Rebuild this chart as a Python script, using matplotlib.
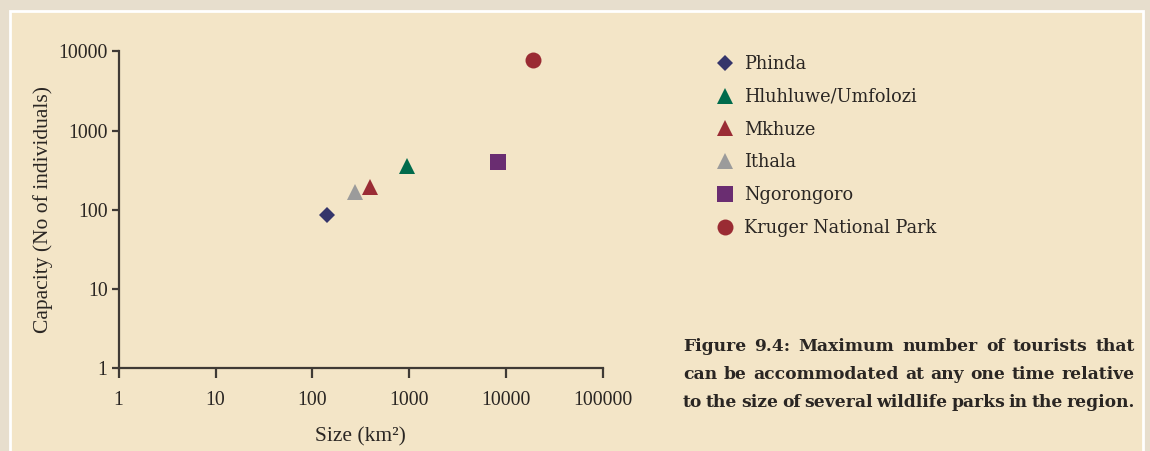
import matplotlib
matplotlib.use("Agg")
import matplotlib.pyplot as plt
from matplotlib.patches import Rectangle

# Park data: area (km²) and tourist capacity (individuals)
parks = ["Phinda", "Hluhluwe/Umfolozi", "Mkhuze", "Ithala", "Ngorongoro", "Kruger National Park"]
size_km2 = [142, 960, 390, 278, 8300, 19000]
capacity = [87, 355, 195, 170, 400, 7700]
markers = ["D", "^", "^", "^", "s", "o"]
colors = ["#34356b", "#006b4c", "#9a2c35", "#9b9b9b", "#6a2d71", "#9a2b33"]
msizes = [8.0, 11.5, 11.5, 11.5, 12.0, 11.5]

x_ticks = [1, 10, 100, 1000, 10000, 100000]
y_ticks = [1, 10, 100, 1000, 10000]

caption_lines = [
    "Figure 9.4: Maximum number of tourists that",
    "can be accommodated at any one time relative",
    "to the size of several wildlife parks in the region.",
]

W, H = 1150, 451
fig = plt.figure(figsize=(W / 100, H / 100), dpi=100)
fig.patch.set_facecolor("#e7decd")

# cream content panel with a white rim
panel = Rectangle((10 / W, -0.05), (1143 - 10) / W, 1.05 - 11 / H,
                  transform=fig.transFigure, facecolor="#f3e5c7",
                  edgecolor="white", linewidth=2.0, zorder=-10)
fig.patches.append(panel)

ax = fig.add_axes([118.7 / W, 1 - 368.3 / H, (602.7 - 118.7) / W, (368.3 - 51.3) / H])
ax.set_zorder(1)
ax.set_facecolor("none")
ax.set_xscale("log")
ax.set_yscale("log")
ax.set_xlim(1, 100000)
ax.set_ylim(1, 10000)

handles = []
for name, x, y, m, c, ms in zip(parks, size_km2, capacity, markers, colors, msizes):
    h, = ax.plot([x], [y], linestyle="none", marker=m, color=c, markersize=ms,
                 markeredgewidth=0, label=name, clip_on=False)
    handles.append(h)

axis_col = "#3f3a35"
text_col = "#2a2623"
tick_font = dict(family="Liberation Serif", size=14.3, color=text_col)
label_font = dict(family="Liberation Serif", size=15.5, color=text_col)
for side in ("top", "right"):
    ax.spines[side].set_visible(False)
for side in ("left", "bottom"):
    ax.spines[side].set_color(axis_col)
    ax.spines[side].set_linewidth(1.6)

ax.set_xticks(x_ticks)
ax.set_xticklabels([str(v) for v in x_ticks], fontdict=tick_font)
ax.set_yticks(y_ticks)
ax.set_yticklabels([str(v) for v in y_ticks], fontdict=tick_font)
ax.minorticks_off()
ax.tick_params(axis="x", direction="out", length=7, width=1.6, color=axis_col, pad=9)
ax.tick_params(axis="y", direction="out", length=5, width=1.6, color=axis_col, pad=3)

ax.set_xlabel("Size (km²)", fontdict=label_font, labelpad=13)
ax.set_ylabel("Capacity (No of individuals)", fontdict=label_font, labelpad=4)

fig.legend(handles=handles, labels=parks, loc="upper left",
           bbox_to_anchor=(716 / W, 1 - 55 / H), frameon=False,
           prop=dict(family="DejaVu Serif", size=12.8), labelcolor=text_col,
           handlelength=1.0, handletextpad=0.6, labelspacing=0.83,
           borderpad=0, borderaxespad=0, numpoints=1)

# justified caption, word by word
fig.canvas.draw()
renderer = fig.canvas.get_renderer()
cap_font = dict(family="DejaVu Serif", weight="bold", size=12.3, color=text_col)
left_px, right_px = 683, 1135
baselines = [351, 379, 407]
for line, base in zip(caption_lines, baselines):
    words = line.split(" ")
    txts = [fig.text(0, 0, w, **cap_font) for w in words]
    widths = [t.get_window_extent(renderer).width for t in txts]
    gap = (right_px - left_px - sum(widths)) / (len(words) - 1)
    x = left_px
    for t, w in zip(txts, widths):
        t.set_position((x / W, 1 - base / H))
        t.set_va("baseline")
        x += w + gap

fig.savefig("out.png", dpi=100, facecolor=fig.get_facecolor())
